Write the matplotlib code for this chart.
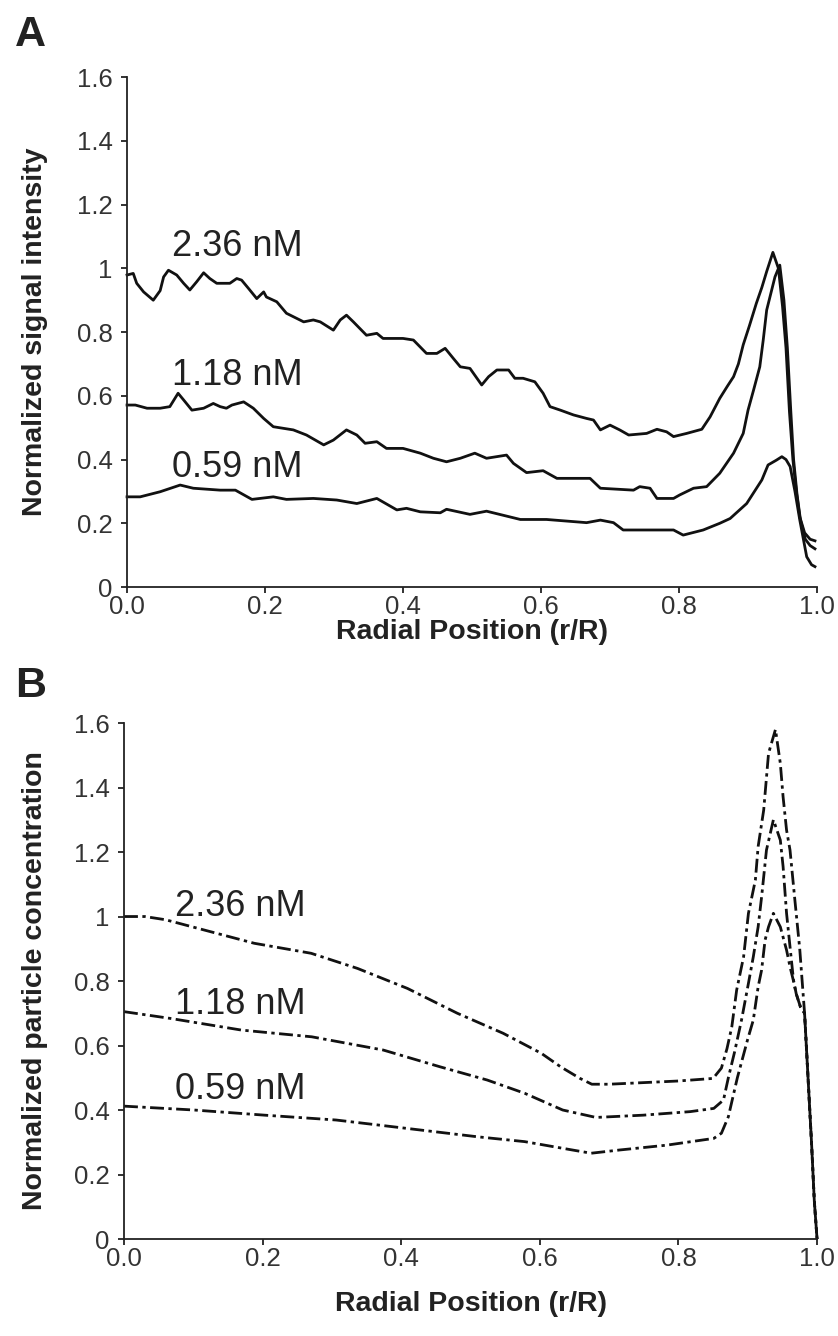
import matplotlib
matplotlib.use("Agg")
import matplotlib.pyplot as plt

plt.rcParams['font.family'] = ['Liberation Sans', 'DejaVu Sans']

# ---------------- Panel A data (normalized signal intensity) ----------------
a236_r = [0, 0.009, 0.014, 0.024, 0.038, 0.048, 0.053, 0.06, 0.072, 0.082,
          0.091, 0.101, 0.111, 0.12, 0.13, 0.149, 0.159, 0.166, 0.176, 0.188,
          0.198, 0.202, 0.217, 0.231, 0.256, 0.27, 0.28, 0.299, 0.309, 0.318,
          0.328, 0.347, 0.362, 0.371, 0.40, 0.415, 0.434, 0.449, 0.461, 0.473,
          0.483, 0.497, 0.514, 0.524, 0.536, 0.553, 0.562, 0.574, 0.591, 0.603,
          0.613, 0.628, 0.647, 0.666, 0.676, 0.686, 0.70, 0.714, 0.727, 0.753,
          0.768, 0.782, 0.792, 0.811, 0.833, 0.845, 0.859, 0.870, 0.879, 0.886,
          0.893, 0.902, 0.912, 0.920, 0.927, 0.936, 0.944, 0.950, 0.955, 0.960,
          0.965, 0.970, 0.975, 0.982, 0.99, 0.997]
a236_v = [0.979, 0.984, 0.953, 0.926, 0.90, 0.93, 0.973, 0.994, 0.979, 0.953,
          0.932, 0.958, 0.986, 0.968, 0.953, 0.953, 0.968, 0.963, 0.937, 0.905,
          0.926, 0.91, 0.895, 0.859, 0.832, 0.838, 0.832, 0.806, 0.838, 0.853,
          0.832, 0.79, 0.796, 0.78, 0.78, 0.775, 0.733, 0.733, 0.749, 0.717,
          0.691, 0.686, 0.634, 0.66, 0.681, 0.681, 0.655, 0.655, 0.644, 0.608,
          0.566, 0.555, 0.54, 0.529, 0.524, 0.493, 0.508, 0.493, 0.477, 0.482,
          0.495, 0.487, 0.472, 0.482, 0.495, 0.534, 0.592, 0.63, 0.66, 0.70,
          0.76, 0.82, 0.89, 0.94, 0.99, 1.05, 1.0, 0.88, 0.75, 0.55,
          0.40, 0.30, 0.22, 0.17, 0.15, 0.145]

a118_r = [0, 0.012, 0.029, 0.048, 0.062, 0.074, 0.082, 0.094, 0.111, 0.125,
          0.135, 0.144, 0.152, 0.169, 0.183, 0.198, 0.212, 0.241, 0.26, 0.285,
          0.299, 0.318, 0.333, 0.345, 0.362, 0.376, 0.40, 0.425, 0.444, 0.463,
          0.483, 0.504, 0.521, 0.55, 0.56, 0.579, 0.603, 0.623, 0.642, 0.671,
          0.686, 0.734, 0.743, 0.758, 0.768, 0.792, 0.801, 0.821, 0.84, 0.859,
          0.879, 0.893, 0.90, 0.908, 0.917, 0.922, 0.927, 0.939, 0.946, 0.952,
          0.957, 0.962, 0.966, 0.971, 0.976, 0.983, 0.99, 0.997]
a118_v = [0.571, 0.571, 0.561, 0.561, 0.566, 0.608, 0.587, 0.555, 0.561, 0.576,
          0.566, 0.561, 0.571, 0.581, 0.561, 0.529, 0.503, 0.493, 0.477, 0.446,
          0.461, 0.493, 0.477, 0.451, 0.456, 0.435, 0.435, 0.42, 0.404, 0.393,
          0.404, 0.42, 0.404, 0.414, 0.388, 0.359, 0.365, 0.341, 0.341, 0.341,
          0.31, 0.304, 0.315, 0.31, 0.278, 0.278, 0.289, 0.31, 0.315, 0.357,
          0.42, 0.482, 0.555, 0.618, 0.691, 0.775, 0.869, 0.973, 1.01, 0.90,
          0.75, 0.55, 0.40, 0.29, 0.21, 0.15, 0.13, 0.12]

a059_r = [0, 0.019, 0.048, 0.077, 0.096, 0.135, 0.157, 0.181, 0.212, 0.231,
          0.27, 0.304, 0.333, 0.362, 0.391, 0.405, 0.425, 0.454, 0.463, 0.497,
          0.521, 0.57, 0.608, 0.666, 0.686, 0.705, 0.719, 0.758, 0.792, 0.806,
          0.835, 0.859, 0.874, 0.898, 0.92, 0.929, 0.941, 0.949, 0.955, 0.961,
          0.968, 0.975, 0.985, 0.992, 0.997]
a059_v = [0.283, 0.283, 0.299, 0.32, 0.31, 0.304, 0.304, 0.275, 0.283, 0.275,
          0.278, 0.273, 0.262, 0.278, 0.242, 0.247, 0.236, 0.233, 0.244, 0.228,
          0.238, 0.212, 0.212, 0.202, 0.21, 0.202, 0.179, 0.179, 0.179, 0.163,
          0.179, 0.2, 0.215, 0.262, 0.336, 0.383, 0.398, 0.409, 0.40, 0.378,
          0.30, 0.21, 0.095, 0.07, 0.064]

# ---------------- Panel B data (normalized particle concentration) ----------------
b236_r = [0, 0.03, 0.06, 0.116, 0.188, 0.27, 0.337, 0.409, 0.481, 0.547,
          0.602, 0.63, 0.658, 0.675, 0.70, 0.75, 0.80, 0.85, 0.862, 0.87,
          0.877, 0.884, 0.894, 0.901, 0.911, 0.915, 0.923, 0.93, 0.94, 0.947,
          0.951, 0.956, 0.961, 0.968, 0.975, 0.982, 0.987, 0.992, 0.996, 1.0]
b236_v = [1.0, 1.0, 0.99, 0.958, 0.917, 0.886, 0.839, 0.777, 0.70, 0.638,
          0.576, 0.534, 0.498, 0.48, 0.48, 0.485, 0.49, 0.498, 0.53, 0.59,
          0.658, 0.772, 0.875, 1.01, 1.113, 1.217, 1.33, 1.506, 1.58, 1.475,
          1.371, 1.268, 1.206, 1.051, 0.90, 0.70, 0.5, 0.3, 0.12, 0.0]

b118_r = [0, 0.067, 0.169, 0.271, 0.374, 0.456, 0.524, 0.578, 0.633, 0.681,
          0.749, 0.817, 0.851, 0.865, 0.872, 0.881, 0.891, 0.901, 0.908, 0.915,
          0.92, 0.927, 0.937, 0.947, 0.951, 0.956, 0.961, 0.966, 0.970, 0.976,
          0.982, 0.987, 0.992, 0.996, 1.0]
b118_v = [0.705, 0.684, 0.648, 0.627, 0.586, 0.534, 0.493, 0.452, 0.40, 0.377,
          0.384, 0.395, 0.405, 0.431, 0.50, 0.58, 0.679, 0.793, 0.875, 0.968,
          1.061, 1.206, 1.30, 1.237, 1.155, 1.01, 0.906, 0.803, 0.76, 0.72,
          0.70, 0.5, 0.3, 0.12, 0.0]

b059_r = [0, 0.101, 0.203, 0.306, 0.408, 0.51, 0.578, 0.647, 0.674, 0.715,
          0.783, 0.851, 0.862, 0.872, 0.885, 0.90, 0.908, 0.915, 0.92, 0.925,
          0.93, 0.937, 0.947, 0.956, 0.961, 0.966, 0.970, 0.976, 0.982, 0.987,
          0.992, 0.996, 1.0]
b059_v = [0.412, 0.40, 0.384, 0.369, 0.343, 0.317, 0.302, 0.276, 0.266, 0.276,
          0.291, 0.312, 0.328, 0.379, 0.50, 0.62, 0.679, 0.782, 0.834, 0.927,
          0.968, 1.01, 0.968, 0.896, 0.844, 0.80, 0.76, 0.72, 0.70, 0.5,
          0.3, 0.12, 0.0]

series_labels = ["2.36 nM", "1.18 nM", "0.59 nM"]
labels_pos_a = [(0.065, 1.068), (0.065, 0.663), (0.065, 0.375)]
labels_pos_b = [(0.074, 1.030), (0.074, 0.728), (0.074, 0.463)]

xticks = [0.0, 0.2, 0.4, 0.6, 0.8, 1.0]
xticklabels = ["0.0", "0.2", "0.4", "0.6", "0.8", "1.0"]
yticks = [0, 0.2, 0.4, 0.6, 0.8, 1.0, 1.2, 1.4, 1.6]
yticklabels = ["0", "0.2", "0.4", "0.6", "0.8", "1", "1.2", "1.4", "1.6"]

fig = plt.figure(figsize=(8.38, 13.36), dpi=100)
axA = fig.add_axes([0.1516, 0.5606, 0.8234, 0.3817])
axB = fig.add_axes([0.1480, 0.0726, 0.8270, 0.3862])

tick_color = '#333333'
line_kw = dict(color='#111111', lw=2.0)


def style(ax, ylabel, xlabel_y, ylabel_x):
    ax.set_xlim(0, 1.0)
    ax.set_ylim(0, 1.6)
    for s in ['top', 'right']:
        ax.spines[s].set_visible(False)
    for s in ['left', 'bottom']:
        ax.spines[s].set_linewidth(1.3)
        ax.spines[s].set_color('#222222')
    ax.set_xticks(xticks)
    ax.set_xticklabels(xticklabels)
    ax.set_yticks(yticks)
    ax.set_yticklabels(yticklabels)
    ax.tick_params(axis='both', direction='out', length=4.5, width=1.3,
                   color='#222222', labelsize=18.5, labelcolor=tick_color)
    ax.tick_params(axis='y', pad=6)
    ax.tick_params(axis='x', pad=1)
    ax.set_xlabel("Radial Position (r/R)", fontsize=20.5, fontweight='bold',
                  color='#222222')
    ax.set_ylabel(ylabel, fontsize=20.5, fontweight='bold', color='#222222')
    ax.xaxis.set_label_coords(0.5, xlabel_y)
    ax.xaxis.label.set_va('center')
    ax.yaxis.set_label_coords(ylabel_x, 0.5)
    ax.yaxis.label.set_va('center')


# Panel A
for r, v in [(a236_r, a236_v), (a118_r, a118_v), (a059_r, a059_v)]:
    axA.plot(r, v, **line_kw, clip_on=False)
for lab, (x, y) in zip(series_labels, labels_pos_a):
    axA.text(x, y, lab, fontsize=26, color='#222222', va='center', ha='left')
style(axA, "Normalized signal intensity", -0.088, -0.133)

# Panel B
dash = (0, (5, 1.6, 1.2, 1.6))
for r, v in [(b236_r, b236_v), (b118_r, b118_v), (b059_r, b059_v)]:
    axB.plot(r, v, color='#111111', lw=2.0, linestyle=dash, clip_on=False)
for lab, (x, y) in zip(series_labels, labels_pos_b):
    axB.text(x, y, lab, fontsize=26, color='#222222', va='center', ha='left')
style(axB, "Normalized particle concentration", -0.125, -0.128)

fig.text(0.036, 0.974, "A", fontsize=31, fontweight='bold', color='#222222',
         ha='center', va='center')
fig.text(0.036, 0.4865, "B", fontsize=31, fontweight='bold', color='#222222',
         ha='center', va='center')

fig.savefig("out.png", dpi=100)
